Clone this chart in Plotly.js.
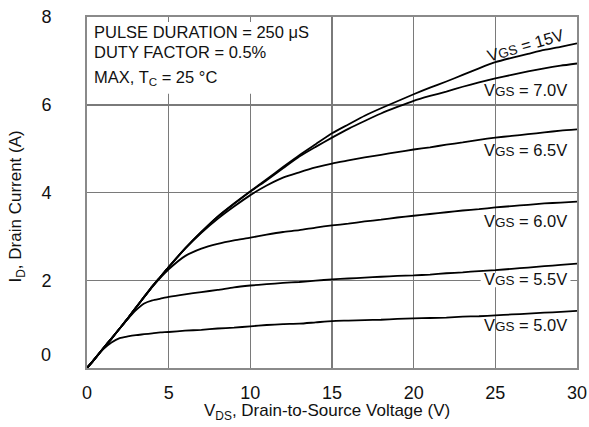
<!DOCTYPE html>
<html>
<head>
<meta charset="utf-8">
<script src="https://cdn.plot.ly/plotly-3.0.1.min.js"></script>
<style>html,body{margin:0;padding:0;background:#fff;}#chart{width:589px;height:427px;}</style>
</head>
<body>
<div id="chart"></div>
<script>
// Drain-to-source voltage samples (V)
const vds = [0, 0.5, 1, 1.5, 2, 2.5, 3, 3.5, 4, 4.5, 5, 6, 7, 8, 9, 10, 11, 12, 13, 14, 15, 16, 17, 18, 19, 20, 21, 22, 23, 24, 25, 26, 27, 28, 29, 30];

// Drain current (A) for each gate voltage
const id15 = [0, 0.22, 0.45, 0.67, 0.90, 1.13, 1.38, 1.62, 1.86, 2.08, 2.30, 2.72, 3.10, 3.45, 3.75, 4.03, 4.30, 4.58, 4.85, 5.10, 5.35, 5.55, 5.75, 5.92, 6.08, 6.24, 6.39, 6.53, 6.68, 6.83, 6.97, 7.07, 7.16, 7.25, 7.32, 7.40];
const id70 = [0, 0.22, 0.45, 0.67, 0.90, 1.13, 1.38, 1.62, 1.86, 2.08, 2.30, 2.72, 3.10, 3.45, 3.74, 4.02, 4.28, 4.55, 4.82, 5.04, 5.25, 5.45, 5.63, 5.80, 5.95, 6.09, 6.20, 6.30, 6.41, 6.51, 6.60, 6.68, 6.76, 6.83, 6.89, 6.94];
const id65 = [0, 0.22, 0.45, 0.67, 0.90, 1.13, 1.38, 1.62, 1.86, 2.08, 2.30, 2.72, 3.08, 3.40, 3.68, 3.94, 4.16, 4.34, 4.46, 4.57, 4.66, 4.73, 4.80, 4.86, 4.92, 4.98, 5.03, 5.09, 5.14, 5.20, 5.25, 5.29, 5.33, 5.37, 5.41, 5.44];
const id60 = [0, 0.22, 0.45, 0.67, 0.90, 1.13, 1.38, 1.62, 1.85, 2.06, 2.25, 2.55, 2.72, 2.83, 2.91, 2.97, 3.04, 3.10, 3.14, 3.20, 3.25, 3.29, 3.34, 3.38, 3.43, 3.47, 3.51, 3.55, 3.59, 3.62, 3.66, 3.69, 3.72, 3.75, 3.77, 3.79];
const id55 = [0, 0.22, 0.45, 0.67, 0.90, 1.12, 1.32, 1.47, 1.54, 1.58, 1.62, 1.68, 1.73, 1.78, 1.84, 1.88, 1.91, 1.94, 1.96, 1.99, 2.02, 2.04, 2.06, 2.08, 2.10, 2.11, 2.13, 2.16, 2.18, 2.21, 2.23, 2.26, 2.29, 2.32, 2.35, 2.38];
const id50 = [0, 0.22, 0.43, 0.58, 0.68, 0.72, 0.75, 0.77, 0.79, 0.81, 0.82, 0.85, 0.87, 0.90, 0.92, 0.95, 0.98, 1.00, 1.01, 1.04, 1.07, 1.08, 1.09, 1.10, 1.12, 1.13, 1.14, 1.15, 1.17, 1.18, 1.20, 1.22, 1.24, 1.26, 1.28, 1.30];

const seriesNames = ['15V', '7.0V', '6.5V', '6.0V', '5.5V', '5.0V'];
const seriesData = [id15, id70, id65, id60, id55, id50];

// Curve label anchor positions (V, A)
const labelX = [26.85, 26.85, 26.85, 26.85, 26.85, 26.85];
const labelY = [7.36, 6.33, 4.96, 3.36, 2.02, 0.97];
const labelAngle = [-16, 0, 0, 0, 0, 0];

const xTicks = [0, 5, 10, 15, 20, 25, 30];
const yTicks = [2, 4, 6, 8];

const infoLines = ['PULSE DURATION = 250 μS', 'DUTY FACTOR = 0.5%', 'MAX, T<sub>C</sub> = 25 °C'];
const infoY = [0.957, 0.900, 0.826];

const FONT = 'Liberation Sans, Arial, sans-serif';
const GRID = '#7a7a7a';

const traces = seriesData.map((d, i) => ({
  x: vds, y: d, type: 'scatter', mode: 'lines', name: 'VGS = ' + seriesNames[i],
  line: {color: '#000', width: 1.8, shape: 'spline', smoothing: 0.6},
  hoverinfo: 'skip'
}));

const annotations = [];
seriesNames.forEach((n, i) => {
  annotations.push({
    x: labelX[i], y: labelY[i], xref: 'x', yref: 'y',
    text: 'V<span style="font-size:13.5px">GS</span> = ' + n,
    showarrow: false, textangle: labelAngle[i],
    font: {family: FONT, size: 16.5, color: '#111'}
  });
});
infoLines.forEach((t, i) => {
  annotations.push({
    x: 0.01, y: infoY[i], xref: 'paper', yref: 'paper', xanchor: 'left', yanchor: 'middle',
    text: t, showarrow: false, font: {family: FONT, size: 16.5, color: '#111'}
  });
});
// y tick label "0" (sits slightly above the axis in the reference)
annotations.push({
  x: 0, y: 0, xref: 'paper', yref: 'y', xanchor: 'right', yanchor: 'middle',
  xshift: -34, yshift: 13, text: '0', showarrow: false,
  font: {family: FONT, size: 18, color: '#111'}
});
// Axis titles
annotations.push({
  x: -0.143, y: 0.46, xref: 'paper', yref: 'paper', xanchor: 'center', yanchor: 'middle',
  textangle: -90, text: 'I<sub>D</sub>, Drain Current (A)', showarrow: false,
  font: {family: FONT, size: 17, color: '#111'}
});
annotations.push({
  x: 0.49, y: -0.125, xref: 'paper', yref: 'paper', xanchor: 'center', yanchor: 'middle',
  text: 'V<sub>DS</sub>, Drain-to-Source Voltage (V)', showarrow: false,
  font: {family: FONT, size: 17, color: '#111'}
});

const layout = {
  width: 589, height: 427,
  margin: {l: 87, r: 12, t: 17, b: 59, pad: 0},
  paper_bgcolor: '#fff', plot_bgcolor: '#fff',
  showlegend: false,
  font: {family: FONT, size: 18, color: '#111'},
  xaxis: {
    range: [0, 30], tickvals: xTicks, ticktext: xTicks.map(String),
    showgrid: true, gridcolor: GRID, gridwidth: 1.5,
    zeroline: false, showline: true, mirror: 'ticks', linecolor: '#8a8a8a', linewidth: 2,
    ticks: 'inside', ticklen: 5, tickcolor: GRID, tickwidth: 1.5,
    ticklabelstandoff: 7,
    tickfont: {family: FONT, size: 18, color: '#111'}
  },
  yaxis: {
    range: [0, 8], tickvals: yTicks, ticktext: yTicks.map(String),
    showgrid: true, gridcolor: GRID, gridwidth: 1.5,
    zeroline: false, showline: true, mirror: 'ticks', linecolor: '#8a8a8a', linewidth: 2,
    ticks: 'inside', ticklen: 5, tickcolor: GRID, tickwidth: 1.5,
    ticklabelstandoff: 30,
    tickfont: {family: FONT, size: 18, color: '#111'}
  },
  shapes: [{
    type: 'rect', xref: 'x', yref: 'y', x0: 0, x1: 13.2, y0: 6.25, y1: 8,
    fillcolor: '#fff', line: {width: 0}, layer: 'between'
  }, {
    type: 'rect', xref: 'x', yref: 'y', x0: 24.1, x1: 29.6, y0: 1.84, y1: 2.17,
    fillcolor: '#fff', line: {width: 0}, layer: 'between'
  }],
  annotations: annotations
};

Plotly.newPlot('chart', traces, layout, {displayModeBar: false, staticPlot: true});
</script>
</body>
</html>
